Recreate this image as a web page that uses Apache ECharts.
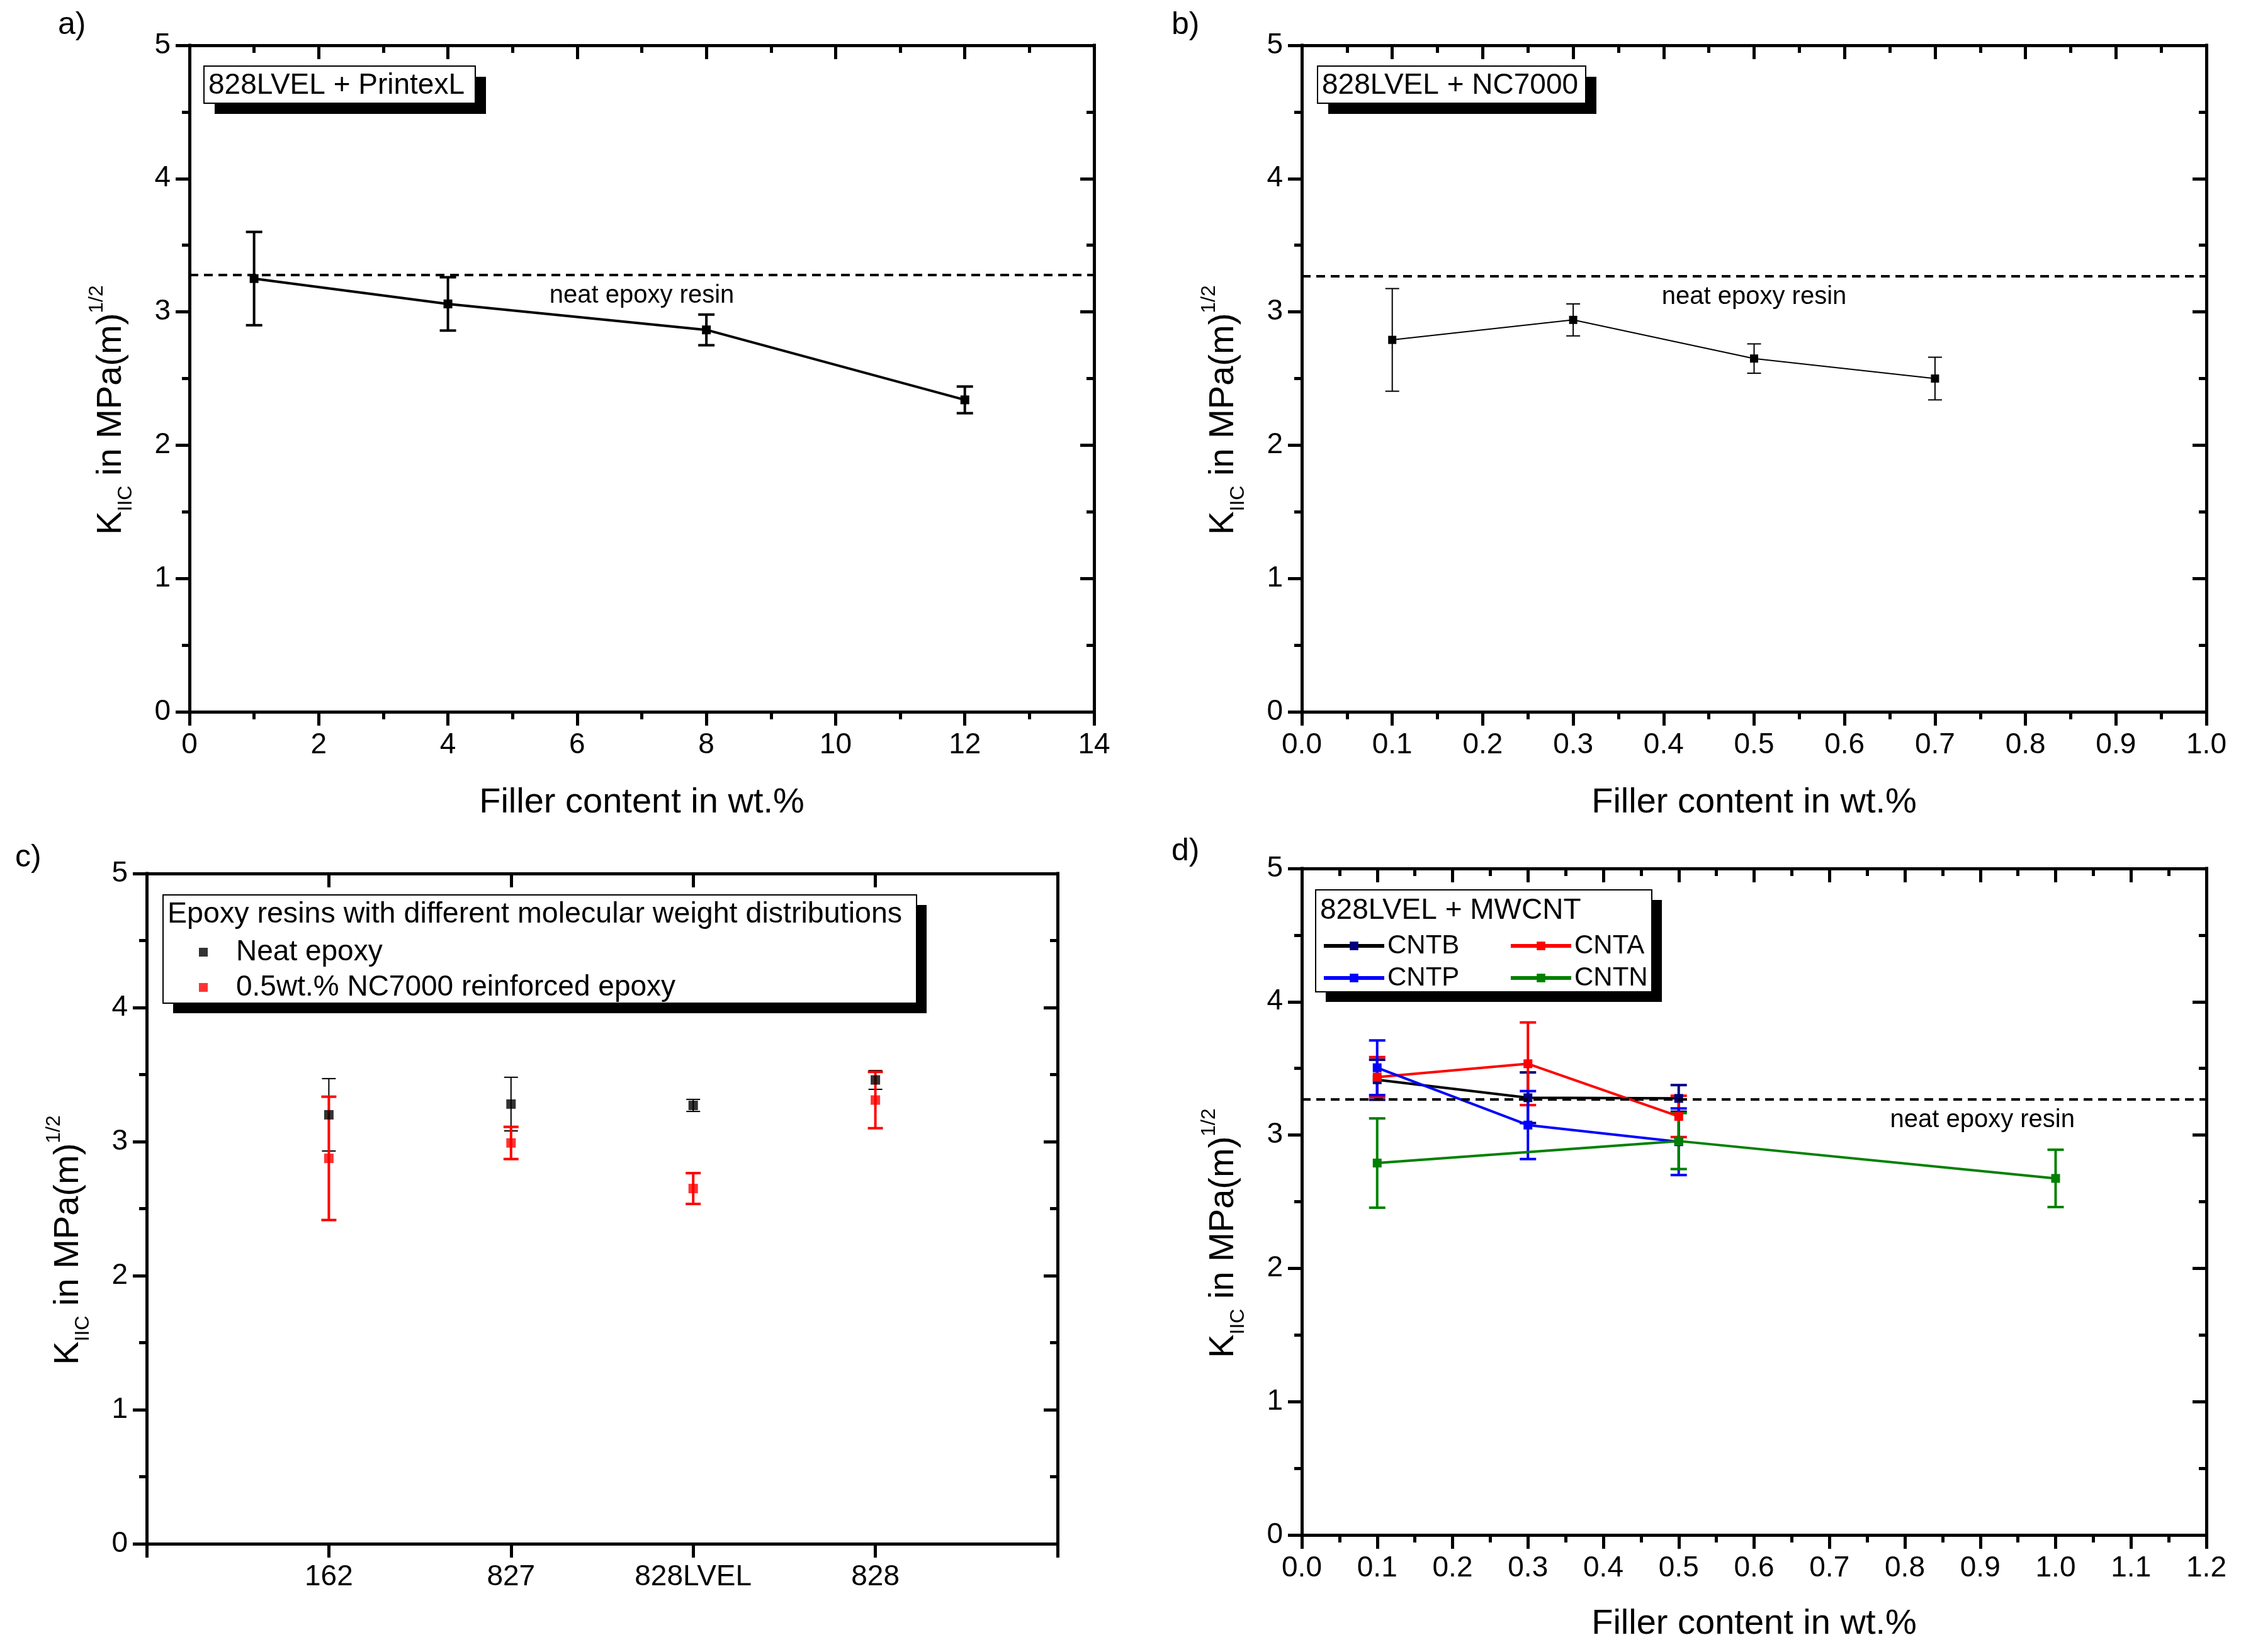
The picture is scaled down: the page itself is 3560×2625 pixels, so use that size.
<!DOCTYPE html>
<html>
<head>
<meta charset="utf-8">
<script src="https://cdn.jsdelivr.net/npm/echarts@6/dist/echarts.min.js"></script>
<style>
  html, body { margin: 0; padding: 0; background: #fff; }
  #main { width: 3560px; height: 2625px; }
</style>
</head>
<body>
<div id="main"></div>
<script>
// a) 828LVEL + PrintexL
const aX = [1, 4, 8, 12];
const aK = [3.25, 3.06, 2.865, 2.34];
const aErr = [0.35, 0.20, 0.115, 0.10];
const aNeat = 3.28;

// b) 828LVEL + NC7000
const bX = [0.1, 0.3, 0.5, 0.7];
const bK = [2.79, 2.94, 2.65, 2.50];
const bErr = [0.385, 0.12, 0.11, 0.16];
const bNeat = 3.27;

// c) resins
const cResins = ['162', '827', '828LVEL', '828'];
const cNeatK = [3.20, 3.28, 3.27, 3.46];
const cNeatErr = [0.27, 0.20, 0.045, 0.07];
const cFillK = [2.875, 2.99, 2.65, 3.31];
const cFillErr = [0.46, 0.12, 0.115, 0.21];

// d) 828LVEL + MWCNT
const cntbX = [0.1, 0.3, 0.5];
const cntbK = [3.415, 3.28, 3.275];
const cntbErr = [0.15, 0.19, 0.10];
const cntaX = [0.1, 0.3, 0.5];
const cntaK = [3.435, 3.535, 3.14];
const cntaErr = [0.15, 0.31, 0.155];
const cntpX = [0.1, 0.3, 0.5];
const cntpK = [3.505, 3.075, 2.95];
const cntpErr = [0.205, 0.255, 0.25];
const cntnX = [0.1, 0.5, 1.0];
const cntnK = [2.79, 2.955, 2.675];
const cntnErr = [0.335, 0.21, 0.215];
const dNeat = 3.27;

const FONT = 'Liberation Sans, Arial, sans-serif';
const yName = '{k|K}{sub|IIC}{k| in MPa(m)}{sup|1/2}';
const xName = 'Filler content in wt.%';

const pts = (x, y) => x.map((v, i) => [v, y[i]]);
const bars = (x, y, e) => x.map((v, i) => [v, y[i] - e[i], y[i] + e[i]]);
const cPos = cResins.map((_, i) => i + 1);

function errorBars(color, width, cap) {
  return function (params, api) {
    const top = api.coord([api.value(0), api.value(2)]);
    const bot = api.coord([api.value(0), api.value(1)]);
    const s = { stroke: color, lineWidth: width };
    const h = cap / 2;
    return {
      type: 'group',
      children: [
        { type: 'line', shape: { x1: top[0], y1: top[1], x2: bot[0], y2: bot[1] }, style: s },
        { type: 'line', shape: { x1: top[0] - h, y1: top[1], x2: top[0] + h, y2: top[1] }, style: s },
        { type: 'line', shape: { x1: bot[0] - h, y1: bot[1], x2: bot[0] + h, y2: bot[1] }, style: s }
      ]
    };
  };
}

function errSeries(g, data, color, width, cap) {
  return {
    type: 'custom', xAxisIndex: 2 * g, yAxisIndex: 2 * g, silent: true, z: 2,
    renderItem: errorBars(color, width, cap), encode: { x: 0, y: [1, 2] }, data: data
  };
}

const axLine = { show: true, onZero: false, lineStyle: { color: '#000', width: 5, cap: 'square' } };
const tickStyle = { color: '#000', width: 5 };

function xAxes(g, max, interval, minor, fmt, name, nameGap) {
  const base = {
    gridIndex: g, type: 'value', min: 0, max: max, interval: interval,
    splitLine: { show: false }, axisLine: axLine,
    minorTick: { show: minor, splitNumber: 2, length: 12, lineStyle: tickStyle }
  };
  return [
    Object.assign({}, base, {
      position: 'bottom',
      axisTick: { show: true, length: 22, lineStyle: tickStyle },
      axisLabel: { fontSize: 46, color: '#000', fontFamily: FONT, margin: 30, formatter: fmt },
      name: name, nameLocation: 'middle', nameGap: nameGap,
      nameTextStyle: { fontSize: 56, color: '#000', fontFamily: FONT }
    }),
    Object.assign({}, base, {
      position: 'top',
      axisTick: { show: true, inside: true, length: 22, lineStyle: tickStyle },
      axisLabel: { show: false }
    })
  ];
}

function yAxes(g) {
  const base = {
    gridIndex: g, type: 'value', min: 0, max: 5, interval: 1,
    splitLine: { show: false }, axisLine: axLine,
    minorTick: { show: true, splitNumber: 2, length: 12, lineStyle: tickStyle }
  };
  return [
    Object.assign({}, base, {
      position: 'left',
      axisTick: { show: true, length: 22, lineStyle: tickStyle },
      axisLabel: { fontSize: 46, color: '#000', fontFamily: FONT, margin: 30 },
      name: yName, nameLocation: 'middle', nameGap: 85,
      nameTextStyle: {
        color: '#000', fontFamily: FONT, padding: [0, 100, 0, 0],
        rich: {
          k: { fontSize: 56, lineHeight: 78, fontFamily: FONT, color: '#000' },
          sub: { fontSize: 32, lineHeight: 78, verticalAlign: 'bottom', fontFamily: FONT, color: '#000' },
          sup: { fontSize: 32, lineHeight: 78, verticalAlign: 'top', fontFamily: FONT, color: '#000' }
        }
      }
    }),
    Object.assign({}, base, {
      position: 'right',
      axisTick: { show: true, inside: true, length: 22, lineStyle: tickStyle },
      axisLabel: { show: false }
    })
  ];
}

function neatLine(value, position, padding) {
  return {
    silent: true, symbol: ['none', 'none'],
    lineStyle: { color: '#000', width: 4, type: [14, 9] },
    label: {
      show: true, position: position, distance: 14, padding: padding,
      formatter: 'neat epoxy resin', fontSize: 40, color: '#000', fontFamily: FONT
    },
    data: [{ yAxis: value }]
  };
}

const fmt1 = v => v.toFixed(1);
const fmtInt = v => String(v);
const fmtCat = v => cResins[v - 1] || '';

const xs = [].concat(
  xAxes(0, 14, 2, true, fmtInt, xName, 117),
  xAxes(1, 1.0, 0.1, true, fmt1, xName, 117),
  xAxes(2, 5, 1, false, fmtCat, '', 0),
  xAxes(3, 1.2, 0.1, true, fmt1, xName, 114)
);
const ys = [].concat(yAxes(0), yAxes(1), yAxes(2), yAxes(3));

function shadowBox(x, y, w, h, off) {
  return [
    { type: 'rect', z: 5, shape: { x: x + off, y: y + off, width: w, height: h }, style: { fill: '#000' } },
    { type: 'rect', z: 6, shape: { x: x, y: y, width: w, height: h }, style: { fill: '#fff', stroke: '#000', lineWidth: 2 } }
  ];
}
function label(text, x, y, size) {
  return { type: 'text', z: 7, style: { text: text, x: x, y: y, fontSize: size, fontFamily: FONT, fill: '#000', verticalAlign: 'middle' } };
}

const graphics = [].concat(
  label('a)', 92, 40, 50), label('b)', 1861, 40, 50),
  label('c)', 24, 1363, 50), label('d)', 1861, 1353, 50),
  shadowBox(324, 105, 431, 59, 17), label('828LVEL + PrintexL', 331, 136, 46),
  shadowBox(2093, 105, 426, 59, 17), label('828LVEL + NC7000', 2100, 136, 46),
  shadowBox(259, 1422, 1197, 172, 16), label('Epoxy resins with different molecular weight distributions', 266, 1453, 46.6),
  shadowBox(2090, 1414, 534, 162, 16), label('828LVEL + MWCNT', 2097, 1447, 46)
);

const dLegendText = { fontSize: 42, lineHeight: 46, color: '#000', fontFamily: FONT };

const chart = echarts.init(document.getElementById('main'));
chart.setOption({
  animation: false,
  backgroundColor: '#fff',
  textStyle: { fontFamily: FONT },
  grid: [
    { left: 301, top: 72, width: 1437, height: 1059 },
    { left: 2068, top: 72, width: 1437, height: 1059 },
    { left: 233, top: 1388, width: 1447, height: 1065 },
    { left: 2068, top: 1380, width: 1437, height: 1059 }
  ],
  xAxis: xs,
  yAxis: ys,
  legend: [
    {
      data: ['Neat epoxy', '0.5wt.% NC7000 reinforced epoxy'], orient: 'vertical',
      left: 311, top: 1483, itemWidth: 14, itemHeight: 14, itemGap: 6, icon: 'rect', z: 10,
      selectedMode: false,
      textStyle: { fontSize: 46, lineHeight: 50, color: '#000', fontFamily: FONT, padding: [0, 0, 0, 40] }
    },
    {
      data: ['CNTB', 'CNTP'], orient: 'vertical', left: 2095, top: 1475,
      itemWidth: 96, itemHeight: 17, itemGap: 5, z: 10, selectedMode: false,
      lineStyle: { width: 6 }, textStyle: dLegendText
    },
    {
      data: ['CNTA', 'CNTN'], orient: 'vertical', left: 2392, top: 1475,
      itemWidth: 96, itemHeight: 17, itemGap: 5, z: 10, selectedMode: false,
      lineStyle: { width: 6 }, textStyle: dLegendText
    }
  ],
  graphic: graphics,
  series: [
    // a
    errSeries(0, bars(aX, aK, aErr), '#000', 4, 26),
    {
      name: 'PrintexL', type: 'line', xAxisIndex: 0, yAxisIndex: 0, z: 3,
      data: pts(aX, aK), symbol: 'rect', symbolSize: 14,
      itemStyle: { color: '#000' }, lineStyle: { color: '#000', width: 4 },
      markLine: neatLine(aNeat, 'insideMiddleBottom', 0)
    },
    // b
    errSeries(1, bars(bX, bK, bErr), '#000', 2, 22),
    {
      name: 'NC7000', type: 'line', xAxisIndex: 2, yAxisIndex: 2, z: 3,
      data: pts(bX, bK), symbol: 'rect', symbolSize: 13,
      itemStyle: { color: '#000' }, lineStyle: { color: '#000', width: 2 },
      markLine: neatLine(bNeat, 'insideMiddleBottom', 0)
    },
    // c
    errSeries(2, bars(cPos, cNeatK, cNeatErr), '#000', 2, 22),
    errSeries(2, bars(cPos, cFillK, cFillErr), '#ff0000', 4, 24),
    {
      name: 'Neat epoxy', type: 'scatter', xAxisIndex: 4, yAxisIndex: 4, z: 3,
      data: pts(cPos, cNeatK), symbol: 'rect', symbolSize: 15, itemStyle: { color: '#000' }
    },
    {
      name: '0.5wt.% NC7000 reinforced epoxy', type: 'scatter', xAxisIndex: 4, yAxisIndex: 4, z: 3,
      data: pts(cPos, cFillK), symbol: 'rect', symbolSize: 15, itemStyle: { color: '#ff0000' }
    },
    // d
    errSeries(3, bars(cntbX, cntbK, cntbErr), '#000080', 4, 26),
    errSeries(3, bars(cntaX, cntaK, cntaErr), '#ff0000', 4, 26),
    errSeries(3, bars(cntpX, cntpK, cntpErr), '#0000ff', 4, 26),
    errSeries(3, bars(cntnX, cntnK, cntnErr), '#008000', 4, 26),
    {
      name: 'CNTB', type: 'line', xAxisIndex: 6, yAxisIndex: 6, z: 3,
      data: pts(cntbX, cntbK), symbol: 'rect', symbolSize: 14,
      itemStyle: { color: '#000080' }, lineStyle: { color: '#000', width: 4 },
      markLine: neatLine(dNeat, 'insideEndBottom', [0, 195, 0, 0])
    },
    {
      name: 'CNTA', type: 'line', xAxisIndex: 6, yAxisIndex: 6, z: 3,
      data: pts(cntaX, cntaK), symbol: 'rect', symbolSize: 14,
      itemStyle: { color: '#ff0000' }, lineStyle: { color: '#ff0000', width: 4 }
    },
    {
      name: 'CNTP', type: 'line', xAxisIndex: 6, yAxisIndex: 6, z: 3,
      data: pts(cntpX, cntpK), symbol: 'rect', symbolSize: 14,
      itemStyle: { color: '#0000ff' }, lineStyle: { color: '#0000ff', width: 4 }
    },
    {
      name: 'CNTN', type: 'line', xAxisIndex: 6, yAxisIndex: 6, z: 3,
      data: pts(cntnX, cntnK), symbol: 'rect', symbolSize: 14,
      itemStyle: { color: '#008000' }, lineStyle: { color: '#008000', width: 4 }
    }
  ]
});
</script>
</body>
</html>
